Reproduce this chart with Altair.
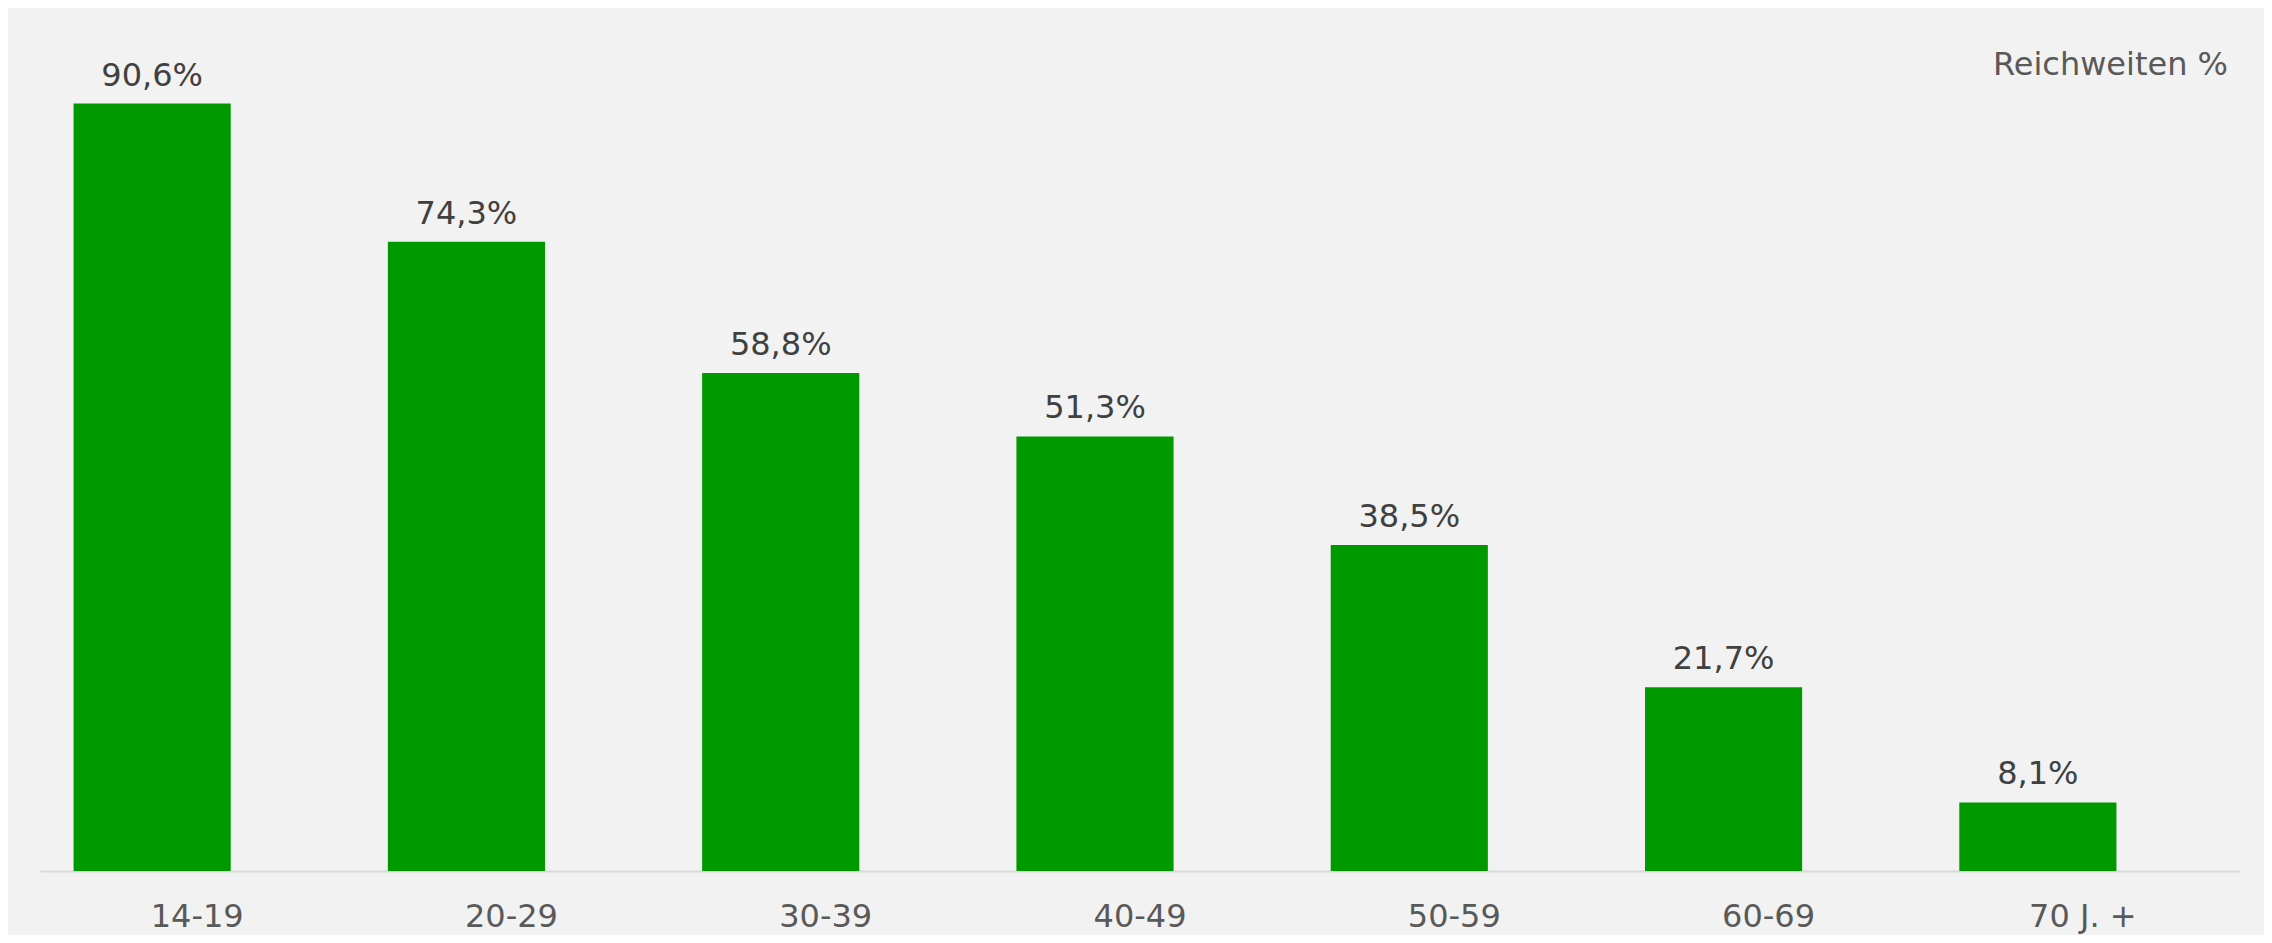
import altair as alt
import pandas as pd

categories = ["14-19", "20-29", "30-39", "40-49", "50-59", "60-69", "70 J. +"]
values = [90.6, 74.3, 58.8, 51.3, 38.5, 21.7, 8.1]

df = pd.DataFrame({
    "Alter": categories,
    "Wert": values,
    "Label": [f"{v:.1f}".replace(".", ",") + "%" for v in values],
})

FONT = "DejaVu Sans"

x = alt.X(
    "Alter:N",
    sort=categories,
    scale=alt.Scale(paddingInner=0, paddingOuter=0),
    axis=alt.Axis(
        title=None,
        ticks=False,
        labelAngle=0,
        labelFont=FONT,
        labelFontSize=32,
        labelColor="#595959",
        labelPadding=30,
        domainColor="#d9d9d9",
        domainWidth=2,
        grid=False,
    ),
)
y = alt.Y("Wert:Q", scale=alt.Scale(domain=[0, 100], nice=False), axis=None)

bars = alt.Chart(df).mark_bar(
    color="#009900", width=alt.RelativeBandSize(0.5), xOffset=-45
).encode(x=x, y=y)

labels = alt.Chart(df).mark_text(
    font=FONT, fontSize=32, color="#404040", dx=-45, dy=-18,
    baseline="alphabetic", align="center"
).encode(x=x, y=y, text="Label:N")

note = alt.Chart(pd.DataFrame({"t": ["Reichweiten %"]})).mark_text(
    font=FONT, fontSize=32, color="#595959", align="right", baseline="alphabetic"
).encode(x=alt.value(2188), y=alt.value(51), text="t:N")

chart = alt.layer(bars, labels, note).properties(
    width=2200,
    height=847,
    padding={"left": 32, "top": 16, "right": 24, "bottom": 64},
    autosize="none",
    background="#f2f2f2",
).configure_view(stroke=None)

chart.save("out.html", embed_options={"renderer": "svg", "actions": False})
